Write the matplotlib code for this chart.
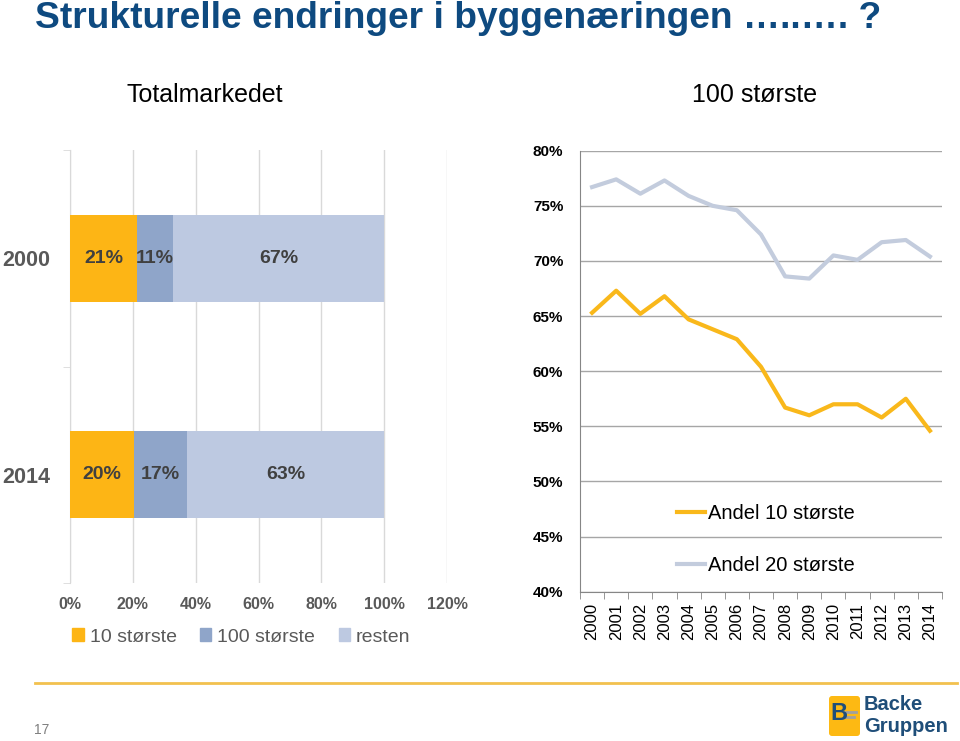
import matplotlib
matplotlib.use('Agg')
import numpy as np
import matplotlib.pyplot as plt
from matplotlib.patches import Patch, FancyBboxPatch
from matplotlib.lines import Line2D

plt.rcParams['font.family'] = ['Liberation Sans', 'DejaVu Sans']

# data - left chart (totalmarkedet)
years_bar = ['2000', '2014']
share_top10 = [0.214, 0.204]
share_top100 = [0.114, 0.169]
share_rest = [0.672, 0.627]
bar_names = ['10 største', '100 største', 'resten']

# data - right chart (100 største)
years = [str(y) for y in range(2000, 2015)]
andel_10 = [65.3, 67.3, 65.2, 66.8, 64.7, 63.8, 62.9, 60.4, 56.7, 56.0, 57.0, 57.0, 55.8, 57.5, 54.6]
andel_20 = [76.7, 77.4, 76.1, 77.3, 75.9, 75.0, 74.6, 72.4, 68.6, 68.4, 70.5, 70.1, 71.7, 71.9, 70.4]
line_names = ['Andel 10 største', 'Andel 20 største']

W, H = 960, 741
fig = plt.figure(figsize=(9.6, 7.41), dpi=100)
fig.patch.set_facecolor('white')

# title and headers
fig.text(35/W, 1-19/H, 'Strukturelle endringer i byggenæringen …..…. ?',
         fontsize=26.7, fontweight='bold', color='#0E4A80', va='center')
fig.text(205/W, 1-95/H, 'Totalmarkedet', fontsize=18, ha='center', va='center')
fig.text(755/W, 1-95/H, '100 største', fontsize=18, ha='center', va='center')

# left chart: stacked bars
ax1 = fig.add_axes([70/W, 1-583/H, 377/W, 433/H])
bar_colors = ['#FDB515', '#8FA5C9', '#BDC9E1']
ypos = np.arange(len(years_bar))
left = np.zeros(len(years_bar))
for vals, col, name in zip([share_top10, share_top100, share_rest], bar_colors, bar_names):
    bars = ax1.barh(ypos, vals, left=left, height=0.4, color=col, label=name, zorder=3)
    ax1.bar_label(bars, labels=[f'{v:.0%}' for v in vals], label_type='center',
                  fontsize=14, fontweight='bold', color='#404040')
    left += np.array(vals)

ax1.set_xlim(0, 1.2)
ax1.set_ylim(1.5, -0.5)
ax1.set_xticks(np.arange(0, 1.21, 0.2))
ax1.set_xticklabels([f'{int(round(v*100))}%' for v in np.arange(0, 1.21, 0.2)],
                    fontsize=11.5, fontweight='bold', color='#595959')
ax1.set_yticks(ypos)
ax1.set_yticklabels(years_bar, fontsize=15.5, fontweight='bold', color='#595959')
ax1.set_yticks([-0.5, 0.5, 1.5], minor=True)
ax1.tick_params(axis='x', length=0, pad=10)
ax1.tick_params(axis='y', which='major', length=0, pad=14)
ax1.tick_params(axis='y', which='minor', length=5, color='#D9D9D9')
ax1.grid(axis='x', color='#D9D9D9', lw=1, zorder=0)
for s in ['top', 'right', 'bottom']:
    ax1.spines[s].set_visible(False)
ax1.spines['left'].set_color('#D9D9D9')

handles = [Patch(color=c, label=n) for c, n in zip(bar_colors, bar_names)]
fig.legend(handles=handles, loc='center left', bbox_to_anchor=(72/W, 1-637/H),
           ncol=3, frameon=False, fontsize=14, handlelength=0.6, handleheight=0.6,
           handletextpad=0.3, columnspacing=1.2, borderpad=0, borderaxespad=0,
           labelcolor='#595959')

# right chart: lines
ax2 = fig.add_axes([580/W, 1-591.7/H, 362/W, 441/H])
x = np.arange(len(years))
ax2.plot(x, andel_10, color='#F9B81B', lw=3, label=line_names[0], zorder=3)
ax2.plot(x, andel_20, color='#C3CCDD', lw=3, label=line_names[1], zorder=3)
ax2.set_xlim(-0.5, len(years)-0.5)
ax2.set_ylim(40, 80)
ax2.set_yticks(range(40, 81, 5))
ax2.set_yticklabels([f'{v}%' for v in range(40, 81, 5)], fontsize=11, fontweight='bold')
ax2.set_xticks(x)
ax2.set_xticklabels(years, rotation=90, fontsize=12)
ax2.set_xticks(np.arange(-0.5, len(years), 1), minor=True)
ax2.tick_params(axis='y', length=0, pad=12)
ax2.tick_params(axis='x', which='major', length=0, pad=8)
ax2.tick_params(axis='x', which='minor', length=5, color='#868686')
ax2.grid(axis='y', color='#A6A6A6', lw=1, zorder=0)
for s in ['top', 'right']:
    ax2.spines[s].set_visible(False)
ax2.spines['left'].set_color('#868686')
ax2.spines['bottom'].set_color('#868686')
ax2.legend(loc='center left', bbox_to_anchor=(677/W, 1-539.5/H),
           bbox_transform=fig.transFigure, frameon=False, fontsize=14.5,
           handlelength=1.4, handletextpad=0.15, labelspacing=1.65,
           borderpad=0, borderaxespad=0)

# footer
fig.add_artist(Line2D([35/W, 957/W], [1-683/H, 1-683/H], color='#F2C14E', lw=2))
fig.text(42/W, 1-730/H, '17', fontsize=10, color='#7F7F7F', ha='center', va='center')

# logo
ax3 = fig.add_axes([826/W, 0, 134/W, 50/H])
ax3.set_xlim(0, 134)
ax3.set_ylim(0, 50)
ax3.axis('off')
ax3.add_patch(FancyBboxPatch((3, 5), 31, 40, boxstyle='round,pad=0,rounding_size=3',
                             facecolor='#FDB913', edgecolor='none'))
ax3.text(4, 27, 'B', fontsize=17, fontweight='bold', color='#1F4E79', va='center')
ax3.plot([18, 30], [29, 29], color='#A0A0A0', lw=2)
ax3.plot([18, 28], [24, 24], color='#A0A0A0', lw=2)
ax3.text(38, 36, 'Backe', fontsize=14.5, fontweight='bold', color='#1F4E79', va='center')
ax3.text(38, 15, 'Gruppen', fontsize=14.5, fontweight='bold', color='#1F4E79', va='center')

fig.savefig('out.png', dpi=100)
